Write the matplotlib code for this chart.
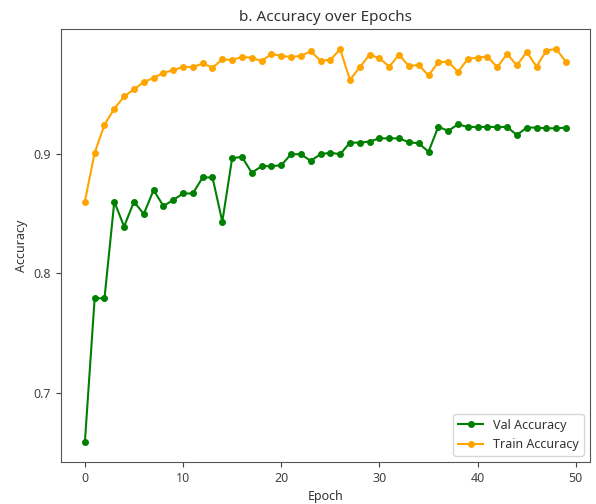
import numpy as np
import matplotlib
matplotlib.use("Agg")
import matplotlib.pyplot as plt

plt.rcParams['font.family'] = ['Noto Sans', 'DejaVu Sans']
plt.rcParams['text.color'] = '#333333'
plt.rcParams['axes.labelcolor'] = '#333333'
plt.rcParams['xtick.color'] = '#444444'
plt.rcParams['ytick.color'] = '#444444'
plt.rcParams['axes.edgecolor'] = '#555555'

epochs = np.arange(50)

val_acc = [0.6586, 0.7792, 0.7792, 0.8600, 0.8392, 0.8600, 0.8497, 0.8697, 0.8564, 0.8614,
           0.8669, 0.8669, 0.8803, 0.8803, 0.8433, 0.8964, 0.8975, 0.8842, 0.8897, 0.8897,
           0.8905, 0.8997, 0.8997, 0.8942, 0.8997, 0.9010, 0.8997, 0.9094, 0.9094, 0.9103,
           0.9130, 0.9130, 0.9130, 0.9097, 0.9089, 0.9018, 0.9228, 0.9192, 0.9247, 0.9225,
           0.9225, 0.9225, 0.9225, 0.9225, 0.9158, 0.9220, 0.9220, 0.9214, 0.9214, 0.9220]

train_acc = [0.8600, 0.9010, 0.9244, 0.9378, 0.9480, 0.9540, 0.9600, 0.9636, 0.9678, 0.9700,
             0.9728, 0.9725, 0.9756, 0.9722, 0.9790, 0.9786, 0.9810, 0.9805, 0.9775, 0.9836,
             0.9820, 0.9810, 0.9820, 0.9858, 0.9780, 0.9786, 0.9875, 0.9620, 0.9725, 0.9830,
             0.9800, 0.9730, 0.9830, 0.9733, 0.9745, 0.9656, 0.9767, 0.9772, 0.9686, 0.9794,
             0.9806, 0.9814, 0.9725, 0.9836, 0.9740, 0.9853, 0.9730, 0.9864, 0.9878, 0.9769]

yticks = [0.7, 0.8, 0.9]

fig = plt.figure(figsize=(5.96, 5.04), dpi=100)
ax = fig.add_axes([0.102, 0.083, 0.888, 0.859])

ax.plot(epochs, val_acc, marker='o', markersize=4, color='green', label='Val Accuracy')
ax.plot(epochs, train_acc, marker='o', markersize=4, color='orange', label='Train Accuracy')

ax.set_yticks(yticks)
ax.tick_params(labelsize=9)
ax.set_title('b. Accuracy over Epochs', fontsize=11)
ax.set_xlabel('Epoch', fontsize=9)
ax.set_ylabel('Accuracy', fontsize=9)
ax.legend(loc='lower right', fontsize=9)

fig.savefig('out.png', dpi=100)
